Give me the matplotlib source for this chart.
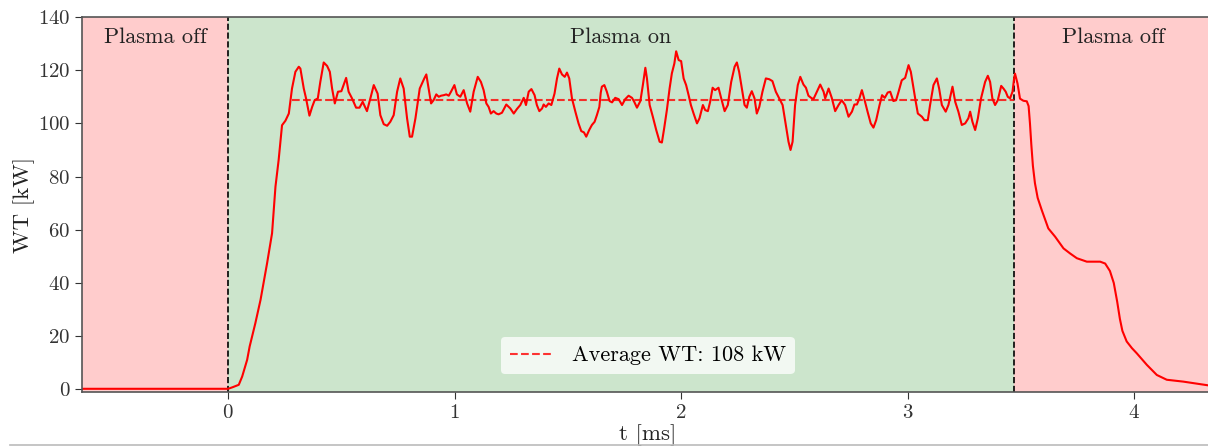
import matplotlib
matplotlib.use('Agg')
import matplotlib.pyplot as plt
from matplotlib.lines import Line2D
import numpy as np

plt.rcParams['font.family'] = 'serif'
plt.rcParams['font.serif'] = ['cmr10', 'DejaVu Serif']
plt.rcParams['mathtext.fontset'] = 'cm'
plt.rcParams['axes.formatter.use_mathtext'] = True
plt.rcParams['axes.unicode_minus'] = False

# ---------------------------------------------------------------------------------------------------------------------
# values (t in ms, WT in kW)

t_rise = [-0.65, 0.0, 0.02, 0.047, 0.062, 0.084, 0.095, 0.120, 0.143, 0.172, 0.194, 0.209, 0.223, 0.238, 0.253]
wt_rise = [0.2, 0.2, 0.8, 1.7, 4.8, 11.1, 16.1, 24.8, 33.6, 47.4, 58.7, 76.2, 86.2, 99.3, 101.0]

t_on = [0.268, 0.282, 0.297, 0.312, 0.319, 0.334, 0.344, 0.359, 0.371, 0.382, 0.396, 0.407, 0.422, 0.437,
        0.449, 0.459, 0.471, 0.485, 0.500, 0.521, 0.532, 0.547, 0.565, 0.580, 0.594, 0.613, 0.628, 0.643,
        0.660, 0.672, 0.687, 0.702, 0.716, 0.731, 0.746, 0.760, 0.775, 0.790, 0.802, 0.812, 0.827, 0.846,
        0.856, 0.866, 0.875, 0.885, 0.896, 0.907, 0.919, 0.930, 0.940, 0.952, 0.963, 0.974, 0.984, 0.999,
        1.010, 1.025, 1.040, 1.055, 1.069, 1.084, 1.102, 1.116, 1.128, 1.140, 1.150, 1.160, 1.172, 1.184,
        1.194, 1.209, 1.228, 1.246, 1.261, 1.275, 1.290, 1.305, 1.315, 1.327, 1.339, 1.353, 1.363, 1.374,
        1.386, 1.393, 1.403, 1.415, 1.427, 1.441, 1.452, 1.462, 1.474, 1.486, 1.496, 1.506, 1.518, 1.533,
        1.547, 1.559, 1.571, 1.581, 1.594, 1.606, 1.618, 1.628, 1.639, 1.645, 1.650, 1.661, 1.672, 1.684,
        1.695, 1.709, 1.724, 1.739, 1.753, 1.768, 1.783, 1.793, 1.805, 1.820, 1.831, 1.842, 1.849, 1.861,
        1.875, 1.890, 1.905, 1.915, 1.925, 1.937, 1.949, 1.959, 1.970, 1.978, 1.989, 2.000, 2.011, 2.022,
        2.033, 2.043, 2.055, 2.070, 2.081, 2.096, 2.106, 2.118, 2.128, 2.139, 2.150, 2.165, 2.177, 2.192,
        2.206, 2.221, 2.236, 2.246, 2.256, 2.268, 2.280, 2.290, 2.301, 2.312, 2.324, 2.334, 2.345, 2.359,
        2.374, 2.389, 2.403, 2.418, 2.433, 2.448, 2.462, 2.474, 2.483, 2.492, 2.503, 2.515, 2.526, 2.540,
        2.551, 2.562, 2.574, 2.584, 2.599, 2.614, 2.629, 2.636, 2.651, 2.665, 2.680, 2.695, 2.709, 2.724,
        2.739, 2.754, 2.765, 2.776, 2.787, 2.798, 2.808, 2.823, 2.837, 2.849, 2.861, 2.876, 2.887, 2.899,
        2.912, 2.923, 2.937, 2.949, 2.960, 2.974, 2.989, 3.004, 3.014, 3.026, 3.035, 3.045, 3.063, 3.074,
        3.089, 3.099, 3.114, 3.129, 3.139, 3.151, 3.168, 3.180, 3.198, 3.210, 3.224, 3.239, 3.254, 3.268,
        3.276, 3.286, 3.298, 3.310, 3.324, 3.342, 3.354, 3.364, 3.374, 3.386, 3.398, 3.413, 3.423, 3.433,
        3.442, 3.452, 3.463, 3.470]
wt_on = [103.7, 113.1, 119.4, 121.3, 120.6, 113.1, 109.4, 102.9, 106.2, 108.7, 109.4, 115.6, 122.9, 121.6,
         119.4, 113.1, 107.5, 111.9, 112.1, 117.1, 111.9, 109.4, 105.9, 105.9, 108.1, 104.6, 109.4, 114.4,
         111.2, 103.1, 99.7, 99.1, 100.6, 103.1, 111.9, 116.9, 113.1, 101.9, 95.0, 95.0, 101.9, 113.1,
         115.0, 116.9, 118.4, 113.1, 107.5, 108.7, 110.9, 110.0, 110.4, 110.6, 110.9, 110.4, 111.9, 114.4,
         110.9, 110.0, 112.5, 107.5, 104.4, 111.9, 117.5, 115.6, 112.5, 107.5, 106.2, 103.7, 104.6, 103.7,
         103.4, 104.0, 107.1, 105.6, 103.7, 105.4, 106.9, 109.6, 106.9, 111.9, 112.9, 110.6, 106.9, 104.6,
         105.6, 107.1, 106.2, 107.5, 106.9, 111.2, 116.9, 120.6, 118.4, 117.5, 119.1, 116.9, 109.4, 104.4,
         100.0, 97.1, 96.6, 95.0, 97.5, 99.4, 100.6, 103.1, 106.2, 111.5, 113.8, 114.4, 111.9, 108.4,
         107.9, 109.6, 109.1, 106.9, 109.1, 110.4, 109.6, 108.1, 105.9, 108.4, 114.4, 120.9, 116.9, 106.9,
         102.5, 97.5, 93.1, 92.8, 98.1, 105.0, 113.1, 118.8, 122.5, 127.1, 123.8, 123.4, 116.9, 114.4,
         110.6, 106.9, 103.7, 100.0, 101.9, 106.9, 105.0, 104.6, 108.1, 113.4, 112.5, 113.4, 109.4, 104.6,
         106.9, 115.6, 121.3, 122.9, 119.4, 113.1, 106.9, 105.9, 110.0, 112.1, 109.4, 103.7, 106.2, 111.9,
         116.9, 116.6, 115.9, 111.9, 109.4, 106.9, 99.4, 93.1, 90.0, 93.1, 106.9, 114.4, 117.5, 114.6,
         113.4, 110.4, 109.6, 109.1, 111.9, 114.6, 111.9, 109.4, 113.1, 109.6, 104.6, 106.9, 108.7, 106.9,
         102.5, 104.4, 107.1, 107.1, 109.4, 112.5, 109.4, 104.4, 100.0, 98.4, 101.2, 106.9, 110.6, 109.6,
         111.6, 111.9, 108.4, 108.7, 111.9, 116.2, 117.1, 121.9, 119.4, 113.1, 108.5, 103.7, 102.5, 101.2,
         101.2, 106.9, 114.4, 116.9, 113.1, 106.9, 104.4, 106.9, 113.8, 108.1, 104.4, 99.4, 100.0, 101.9,
         104.4, 100.6, 97.5, 101.9, 109.4, 115.6, 117.9, 115.6, 109.4, 106.9, 108.7, 114.1, 113.1, 111.9,
         110.0, 109.4, 111.9, 116.9]

t_decay = [3.474, 3.485, 3.496, 3.511, 3.526, 3.534, 3.540, 3.546, 3.553, 3.562, 3.574, 3.592, 3.621,
           3.651, 3.688, 3.717, 3.747, 3.791, 3.850, 3.872, 3.893, 3.910, 3.925, 3.937, 3.948, 3.967,
           3.990, 4.011, 4.056, 4.100, 4.144, 4.217, 4.35]
wt_decay = [118.7, 115.0, 109.3, 108.5, 108.3, 106.5, 100.0, 92.0, 84.0, 77.5, 72.0, 67.4, 60.5,
            57.4, 53.0, 51.1, 49.3, 48.0, 48.0, 47.3, 44.5, 40.0, 33.0, 26.5, 22.0, 18.0,
            15.5, 13.6, 9.2, 5.4, 3.6, 2.9, 1.2]

plasma_start = 0.0
plasma_end = 3.47
avg_start = 0.28
avg_wt = 108.9
avg_label = 'Average WT: 108 kW'

t = np.array(t_rise + t_on + t_decay)
wt = np.array(wt_rise + wt_on + wt_decay)

# ---------------------------------------------------------------------------------------------------------------------

fig = plt.figure(figsize=(12.08, 4.46), dpi=100)
ax = fig.add_axes([0.0679, 0.1211, 0.9366, 0.8408])

xmin, xmax = -0.645, 4.35

ax.axvspan(xmin, plasma_start, color='red', alpha=0.2, lw=0)
ax.axvspan(plasma_start, plasma_end, color='green', alpha=0.2, lw=0)
ax.axvspan(plasma_end, xmax, color='red', alpha=0.2, lw=0)
ax.axvline(plasma_start, color='k', ls='--', lw=1.2)
ax.axvline(plasma_end, color='k', ls='--', lw=1.2)

ax.plot(t, wt, color='red', lw=1.5)
ax.plot([avg_start, plasma_end], [avg_wt, avg_wt], color='red', ls='--', lw=1.5, alpha=0.8, label=avg_label)

ax.text((xmin + plasma_start) / 2, 132.5, 'Plasma off', ha='center', va='center', fontsize=16, color='#222222')
ax.text((plasma_start + plasma_end) / 2, 132.5, 'Plasma on', ha='center', va='center', fontsize=16, color='#222222')
ax.text((plasma_end + xmax) / 2, 132.5, 'Plasma off', ha='center', va='center', fontsize=16, color='#222222')

ax.set_xlim(xmin, xmax)
ax.set_ylim(-1, 140)
ax.set_xticks([0, 1, 2, 3, 4])
ax.set_yticks(np.arange(0, 141, 20))
ax.tick_params(labelsize=15, colors='#333333', length=5)
for s in ax.spines.values():
    s.set_color('#555555')
    s.set_linewidth(1.2)

ax.set_xlabel('t [ms]', fontsize=16.5, color='#222222', labelpad=2)
ax.set_ylabel('WT [kW]', fontsize=16.5, color='#222222', labelpad=2)

leg = ax.legend(loc='lower center', fontsize=16, framealpha=0.75, edgecolor='none', borderaxespad=0.8)

# thin grey rule along the bottom edge of the screenshot
fig.add_artist(Line2D([0.008, 1.0], [0.003, 0.003], color='#bbbbbb', lw=1.2))

fig.savefig('out.png', dpi=100)
